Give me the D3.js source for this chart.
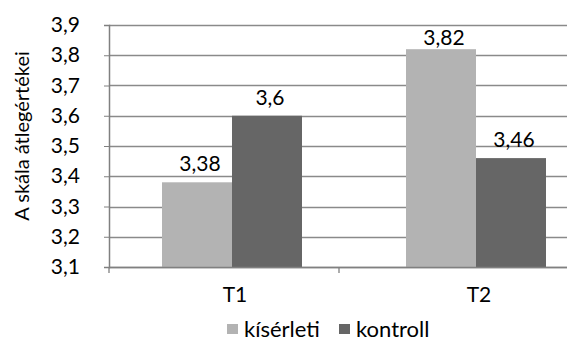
<!DOCTYPE html>
<html>
<head>
<meta charset="utf-8">
<script src="https://cdn.jsdelivr.net/npm/d3@7"></script>
<style>
  body { margin: 0; background: #fff; }
  text { font-family: Lato, "Open Sans", sans-serif; fill: #000; }
</style>
</head>
<body>
<div id="chart"></div>
<script>
var categories = ["T1", "T2"];
var seriesNames = ["kísérleti", "kontroll"];
var kiserleti = [3.38, 3.82];
var kontroll = [3.6, 3.46];
var yTicks = [3.1, 3.2, 3.3, 3.4, 3.5, 3.6, 3.7, 3.8, 3.9];
var colors = ["#b3b3b3", "#666666"];

var width = 567, height = 342;
var plotLeft = 109, plotTop = 25, plotBottom = 267, plotRight = 569;
var fs = "21px";

var svg = d3.select("#chart").append("svg")
  .attr("width", width)
  .attr("height", height);

var y = d3.scaleLinear().domain([3.1, 3.9]).range([plotBottom, plotTop]);

// category slots (for the ticks) and bar groups
var xTick = d3.scaleBand().domain(categories).range([plotLeft, plotRight]);
var x0 = d3.scaleBand().domain(categories).range([plotLeft + 1, plotLeft + 1 + 2 * 244]);
var x1 = d3.scaleBand().domain(seriesNames).range([52, 192]);

var fmt = function(v) { return String(v).replace(".", ","); };

// gridlines
svg.append("g").selectAll("line")
  .data(yTicks)
  .enter().append("line")
  .attr("x1", plotLeft).attr("x2", width)
  .attr("y1", function(d) { return Math.round(y(d)) + 0.5; })
  .attr("y2", function(d) { return Math.round(y(d)) + 0.5; })
  .attr("stroke", "#8a8a8a")
  .attr("stroke-width", 1.3);

// y axis
var yAxis = svg.append("g")
  .attr("transform", "translate(" + plotLeft + ",0)")
  .call(d3.axisLeft(y).tickValues(yTicks).tickSize(5).tickFormat(fmt));
yAxis.select(".domain").attr("stroke", "#808080").attr("stroke-width", 1.5);
yAxis.selectAll(".tick line").attr("stroke", "#808080");
yAxis.selectAll(".tick text")
  .attr("x", -29)
  .style("font-size", fs)
  .style("font-family", "Lato, sans-serif")
  .attr("fill", "#000");

svg.append("text")
  .attr("transform", "translate(29,136) rotate(-90)")
  .attr("text-anchor", "middle")
  .style("font-size", "20px")
  .text("A skála átlegértékei");

// bars
var rows = categories.map(function(c, i) {
  return { cat: c, values: [kiserleti[i], kontroll[i]] };
});

var groups = svg.append("g").selectAll("g")
  .data(rows)
  .enter().append("g")
  .attr("transform", function(d) { return "translate(" + x0(d.cat) + ",0)"; });

var bars = groups.selectAll("g")
  .data(function(d) {
    return d.values.map(function(v, j) { return { name: seriesNames[j], value: v, j: j }; });
  })
  .enter().append("g");

bars.append("rect")
  .attr("x", function(d) { return x1(d.name); })
  .attr("width", x1.bandwidth())
  .attr("y", function(d) { return y(d.value); })
  .attr("height", function(d) { return plotBottom - y(d.value); })
  .attr("fill", function(d) { return colors[d.j]; });

bars.append("text")
  .attr("x", function(d) { return x1(d.name) + x1.bandwidth() / 2 + 3; })
  .attr("y", function(d) { return Math.max(y(d.value) - 11, 45); })
  .attr("text-anchor", "middle")
  .style("font-size", fs)
  .text(function(d) { return fmt(d.value); });

// x axis
svg.append("line")
  .attr("x1", plotLeft).attr("x2", width)
  .attr("y1", plotBottom + 0.5).attr("y2", plotBottom + 0.5)
  .attr("stroke", "#808080").attr("stroke-width", 1.5);

svg.append("g").selectAll("line")
  .data(categories)
  .enter().append("line")
  .attr("x1", function(d) { return xTick(d); })
  .attr("x2", function(d) { return xTick(d); })
  .attr("y1", plotBottom).attr("y2", plotBottom + 6)
  .attr("stroke", "#808080").attr("stroke-width", 1.3);

svg.append("g").selectAll("text")
  .data(categories)
  .enter().append("text")
  .attr("x", function(d) { return x0(d) + x0.bandwidth() / 2 + 3; })
  .attr("y", 302)
  .attr("text-anchor", "middle")
  .style("font-size", fs)
  .text(function(d) { return d; });

// legend
var legendX = [227, 339];
var legend = svg.append("g").selectAll("g")
  .data(seriesNames)
  .enter().append("g")
  .attr("transform", function(d, i) { return "translate(" + legendX[i] + ",324)"; });

legend.append("rect")
  .attr("width", 11).attr("height", 10)
  .attr("fill", function(d, i) { return colors[i]; });

legend.append("text")
  .attr("x", 17)
  .attr("y", 13)
  .style("font-size", "22px")
  .text(function(d) { return d; });
</script>
</body>
</html>
